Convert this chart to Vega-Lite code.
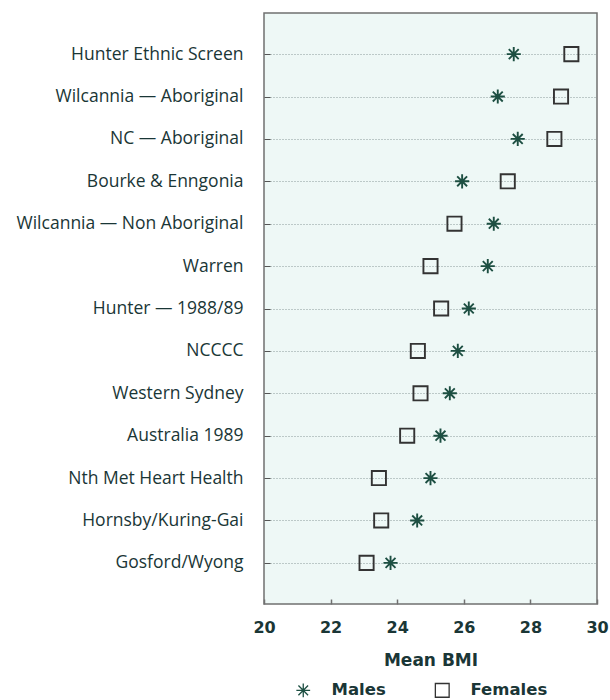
{
  "$schema": "https://vega.github.io/schema/vega-lite/v6.json",
  "width": 333,
  "height": 591,
  "autosize": {"type": "none"},
  "padding": {"left": 264, "top": 13, "right": 13, "bottom": 96},
  "background": "white",
  "config": {
    "view": {"fill": "#eef8f6", "stroke": "#707070", "strokeWidth": 1.5},
    "font": "Open Sans"
  },
  "data": {
    "values": [
      {"study": "Hunter Ethnic Screen", "sex": "Males", "bmi": 27.5},
      {"study": "Hunter Ethnic Screen", "sex": "Females", "bmi": 29.23},
      {"study": "Wilcannia — Aboriginal", "sex": "Males", "bmi": 27.02},
      {"study": "Wilcannia — Aboriginal", "sex": "Females", "bmi": 28.92},
      {"study": "NC — Aboriginal", "sex": "Males", "bmi": 27.62},
      {"study": "NC — Aboriginal", "sex": "Females", "bmi": 28.72},
      {"study": "Bourke & Enngonia", "sex": "Males", "bmi": 25.95},
      {"study": "Bourke & Enngonia", "sex": "Females", "bmi": 27.32},
      {"study": "Wilcannia — Non Aboriginal", "sex": "Males", "bmi": 26.9},
      {"study": "Wilcannia — Non Aboriginal", "sex": "Females", "bmi": 25.72},
      {"study": "Warren", "sex": "Males", "bmi": 26.72},
      {"study": "Warren", "sex": "Females", "bmi": 25.0},
      {"study": "Hunter — 1988/89", "sex": "Males", "bmi": 26.15},
      {"study": "Hunter — 1988/89", "sex": "Females", "bmi": 25.32},
      {"study": "NCCCC", "sex": "Males", "bmi": 25.82},
      {"study": "NCCCC", "sex": "Females", "bmi": 24.62},
      {"study": "Western Sydney", "sex": "Males", "bmi": 25.58},
      {"study": "Western Sydney", "sex": "Females", "bmi": 24.7},
      {"study": "Australia 1989", "sex": "Males", "bmi": 25.3},
      {"study": "Australia 1989", "sex": "Females", "bmi": 24.3},
      {"study": "Nth Met Heart Health", "sex": "Males", "bmi": 25.0},
      {"study": "Nth Met Heart Health", "sex": "Females", "bmi": 23.45},
      {"study": "Hornsby/Kuring-Gai", "sex": "Males", "bmi": 24.6},
      {"study": "Hornsby/Kuring-Gai", "sex": "Females", "bmi": 23.52},
      {"study": "Gosford/Wyong", "sex": "Males", "bmi": 23.8},
      {"study": "Gosford/Wyong", "sex": "Females", "bmi": 23.08}
    ]
  },
  "mark": {"type": "point", "filled": false, "strokeWidth": 1.9, "opacity": 1, "size": 200},
  "encoding": {
    "y": {
      "field": "study",
      "type": "nominal",
      "sort": null,
      "scale": {"type": "point", "padding": 0.97},
      "axis": {
        "title": null,
        "domain": false,
        "ticks": true,
        "tickSize": -6,
        "tickColor": "#555",
        "labelPadding": 27,
        "labelLimit": 400,
        "labelFont": "Open Sans",
        "labelFontSize": 17.5,
        "labelColor": "#1a3636",
        "grid": true,
        "gridDash": [1, 2],
        "gridColor": "#8a9a9a",
        "gridWidth": 1
      }
    },
    "x": {
      "field": "bmi",
      "type": "quantitative",
      "scale": {"domain": [20, 30], "nice": false, "zero": false},
      "axis": {
        "title": "Mean BMI",
        "values": [20, 22, 24, 26, 28, 30],
        "domain": false,
        "grid": false,
        "tickSize": -5,
        "tickColor": "#707070",
        "tickWidth": 1.5,
        "labelFont": "DejaVu Sans",
        "labelFontWeight": "bold",
        "labelFontSize": 16,
        "labelColor": "#1a3636",
        "labelPadding": 20,
        "labelFlush": false,
        "titleFont": "DejaVu Sans",
        "titleFontWeight": "bold",
        "titleFontSize": 17,
        "titleColor": "#1a3636",
        "titlePadding": 17
      }
    },
    "shape": {
      "field": "sex",
      "type": "nominal",
      "scale": {
        "domain": ["Males", "Females"],
        "range": ["M-1,0H1M0,-1V1M-0.7,-0.7L0.7,0.7M-0.7,0.7L0.7,-0.7", "square"]
      },
      "legend": {
        "title": null,
        "orient": "none",
        "direction": "horizontal",
        "legendX": 31,
        "legendY": 669,
        "columnPadding": 46,
        "symbolSize": 190,
        "symbolStrokeWidth": 1.3,
        "labelFont": "DejaVu Sans",
        "labelFontWeight": "bold",
        "labelFontSize": 16.5,
        "labelColor": "#1a3636",
        "labelOffset": 20
      }
    },
    "color": {
      "field": "sex",
      "type": "nominal",
      "scale": {"domain": ["Males", "Females"], "range": ["#1d4f42", "#333333"]}
    }
  }
}
